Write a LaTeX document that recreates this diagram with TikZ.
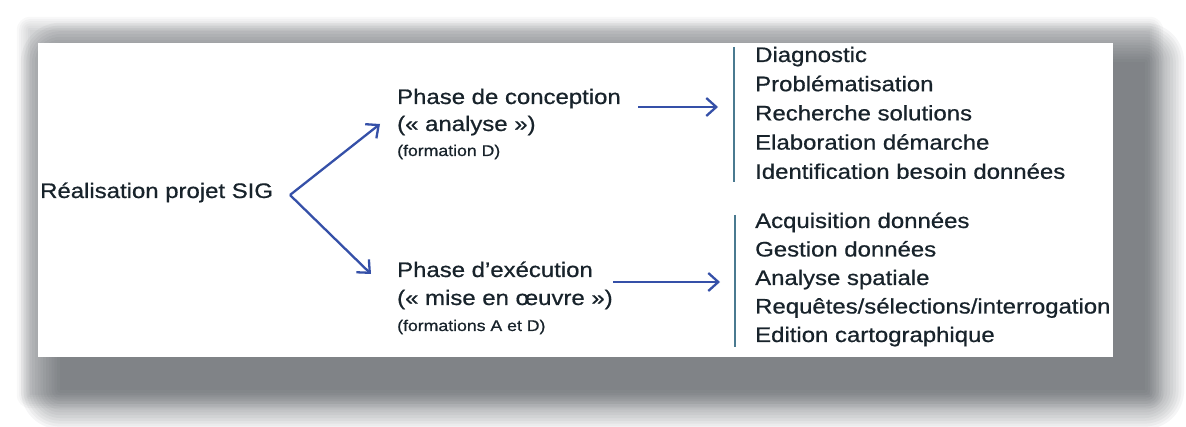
\documentclass[tikz,border=0pt]{standalone}
\usepackage{fontspec}
\setmainfont{Liberation Sans}[FakeStretch=1.14,FakeBold=0.7]
\usetikzlibrary{arrows.meta}
\definecolor{txt}{HTML}{18232B}
\definecolor{arr}{HTML}{3550A8}
\definecolor{bar}{HTML}{4A7A90}
\definecolor{shd}{HTML}{3A3F45}
\begin{document}
\begin{tikzpicture}[x=1pt,y=-1pt,
  big/.style={font=\fontsize{21}{25}\selectfont, text=txt, inner sep=0pt, anchor=base west},
  small/.style={font=\fontsize{15.5}{18}\selectfont, text=txt, inner sep=0pt, anchor=base west},
  link/.style={draw=arr, line width=2.3pt, -{Straight Barb[length=10pt,width=18pt]}},
  vbar/.style={draw=bar, line width=1.8pt}]
\useasboundingbox (0,0) rectangle (1186,427);
% light halo round the panel
\foreach \k in {0,...,6}
  \fill[shd, opacity=0.035, rounded corners={2.2*\k}]
    ({30-2.2*\k},{30-2.2*\k}) rectangle ({1150+2.2*\k},{395+2.2*\k});
% blurred dark shadow to the right and below
\foreach \k in {0,...,14}
  \fill[shd, opacity=0.05, rounded corners={2.8*\k}]
    ({60-2.8*\k},{62-2.8*\k}) rectangle ({1145+2.8*\k},{390+2.8*\k});
% white panel
\fill[white] (38,43) rectangle (1113,357);
% root
\node[big] (root) at (40,198) {Réalisation projet SIG};
% phases
\node[big]   (pc1) at (397,104) {Phase de conception};
\node[big]   (pc2) at (397,131) {(« analyse »)};
\node[small] (pc3) at (397,156) {(formation D)};
\node[big]   (pe1) at (397,277) {Phase d’exécution};
\node[big]   (pe2) at (397,305) {(« mise en œuvre »)};
\node[small] (pe3) at (397,331) {(formations A et D)};
% lists
\foreach \t [count=\i from 0] in {Diagnostic,Problématisation,Recherche solutions,Elaboration démarche,Identification besoin données}
  \node[big] (u\i) at (755,{62+29.2*\i}) {\t};
\foreach \t [count=\i from 0] in {Acquisition données,Gestion données,Analyse spatiale,Requêtes/sélections/interrogation,Edition cartographique}
  \node[big] (l\i) at (755,{228+28.5*\i}) {\t};
% connectors
\coordinate (v)  at (290,195);
\coordinate (tu) at (380,124);
\coordinate (td) at (371,274);
\draw[link] (v) -- (tu);
\draw[link] (v) -- (td);
\coordinate (hu1) at (638,107);
\coordinate (hu2) at (718,107);
\coordinate (hd1) at (613,282);
\coordinate (hd2) at (720,282);
\draw[link] (hu1) -- (hu2);
\draw[link] (hd1) -- (hd2);
\coordinate (bu1) at (734,47);
\coordinate (bu2) at (734,182);
\coordinate (bd1) at (735,215);
\coordinate (bd2) at (735,347);
\draw[vbar] (bu1) -- (bu2);
\draw[vbar] (bd1) -- (bd2);
\end{tikzpicture}
\end{document}
